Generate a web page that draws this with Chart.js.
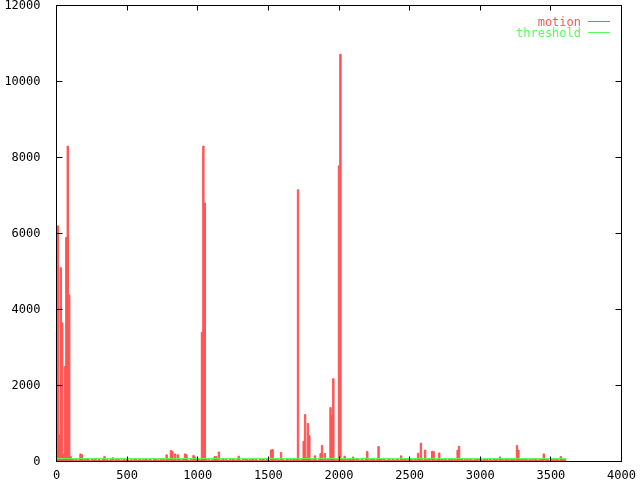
<!DOCTYPE html>
<html>
<head>
<meta charset="utf-8">
<title>motion</title>
<script src="https://cdn.jsdelivr.net/npm/chart.js@4/dist/chart.umd.min.js"></script>
<style>
  html, body { margin: 0; padding: 0; background: #fff; }
  #chart { display: block; }
</style>
</head>
<body>
<canvas id="chart" width="640" height="480"></canvas>
<script>
// motion score, one value every 10 frames (frame 0 .. 3610)
const frameStep = 10
const motion = [
  450, 6200, 700, 5100, 3650, 200, 2500, 5900, 8300, 4385, 130, 40, 60, 25, 55, 30, 45, 200, 180, 35,
  50, 30, 65, 40, 20, 55, 35, 60, 45, 25, 50, 40, 30, 60, 130, 35, 50, 25, 45, 55,
  100, 30, 50, 40, 60, 25, 45, 35, 55, 30, 60, 40, 20, 50, 35, 45, 60, 30, 40, 55,
  25, 50, 35, 60, 45, 30, 55, 40, 20, 50, 65, 35, 45, 30, 55, 40, 60, 25, 175, 45,
  50, 290, 270, 40, 200, 35, 175, 55, 30, 45, 60, 200, 180, 40, 25, 55, 35, 160, 120, 45,
  30, 55, 40, 3400, 8300, 6800, 60, 35, 50, 25, 45, 40, 130, 130, 55, 250, 30, 45, 60, 35,
  50, 40, 25, 55, 35, 60, 45, 30, 50, 140, 40, 25, 55, 35, 60, 45, 30, 50, 40, 65,
  30, 55, 40, 20, 50, 35, 60, 45, 25, 55, 40, 30, 305, 315, 45, 60, 35, 50, 30, 240,
  55, 40, 25, 60, 45, 35, 50, 30, 65, 40, 55, 7150, 45, 30, 60, 530, 1234, 100, 1000, 683,
  50, 35, 60, 150, 40, 25, 55, 210, 420, 45, 210, 30, 60, 40, 1420, 1210, 2180, 50, 35, 60,
  7780, 10715, 60, 45, 140, 35, 55, 40, 65, 30, 120, 50, 35, 60, 45, 25, 55, 40, 30, 50,
  265, 45, 35, 60, 40, 55, 30, 50, 395, 45, 60, 35, 55, 40, 25, 60, 45, 30, 55, 40,
  35, 60, 45, 30, 150, 55, 40, 65, 35, 50, 25, 60, 45, 35, 55, 40, 220, 50, 483, 45,
  30, 300, 55, 40, 60, 35, 270, 260, 45, 30, 55, 225, 40, 60, 35, 50, 45, 30, 60, 40,
  55, 35, 50, 40, 300, 400, 45, 60, 30, 50, 40, 55, 35, 60, 45, 25, 50, 40, 60, 35,
  55, 45, 30, 60, 40, 50, 35, 55, 45, 25, 60, 40, 50, 35, 120, 55, 45, 30, 60, 40,
  50, 35, 55, 45, 60, 30, 420, 300, 50, 40, 55, 35, 60, 45, 30, 50, 40, 55, 35, 60,
  45, 30, 55, 40, 60, 200, 35, 50, 45, 25, 55, 40, 60, 35, 50, 45, 30, 130, 55, 40,
  50, 35
]
const thresholdFrames = [0, 3610]
const thresholdValues = [80, 80]

const xTicks = [0, 500, 1000, 1500, 2000, 2500, 3000, 3500, 4000]
const yTicks = [0, 2000, 4000, 6000, 8000, 10000, 12000]

const red = '#ff5555'
const green = '#55ff55'
const font = { family: 'DejaVu Sans Mono', size: 12 }

// gnuplot style box with inward ticks on all four sides + keys in the corner
const gnuplotFrame = {
  id: 'gnuplotFrame',
  afterDatasetsDraw(chart) {
    const { ctx, chartArea: a, scales: { x, y } } = chart
    ctx.save()
    ctx.strokeStyle = '#000'
    ctx.lineWidth = 1
    ctx.beginPath()
    x.ticks.forEach(t => {
      const px = Math.floor(x.getPixelForValue(t.value)) + 0.5
      ctx.moveTo(px, a.bottom); ctx.lineTo(px, a.bottom - 5)
      ctx.moveTo(px, a.top); ctx.lineTo(px, a.top + 5)
    })
    y.ticks.forEach(t => {
      const py = Math.floor(y.getPixelForValue(t.value)) + 0.5
      ctx.moveTo(a.left, py); ctx.lineTo(a.left + 6, py)
      ctx.moveTo(a.right, py); ctx.lineTo(a.right - 6, py)
    })
    ctx.stroke()
    ctx.strokeRect(a.left, a.top, a.right - a.left, a.bottom - a.top)

    ctx.font = '12px "DejaVu Sans Mono"'
    ctx.textAlign = 'right'
    ctx.textBaseline = 'alphabetic'
    chart.data.datasets.forEach((ds, i) => {
      const ty = 26 + i * 11
      ctx.fillStyle = ds.borderColor
      ctx.fillText(ds.label, 581, ty)
      ctx.strokeStyle = ds.borderColor
      ctx.beginPath()
      ctx.moveTo(588, ty - 4.5)
      ctx.lineTo(610, ty - 4.5)
      ctx.stroke()
    })
    ctx.restore()
  }
}

new Chart(document.getElementById('chart'), {
  type: 'line',
  data: {
    datasets: [{
      label: 'motion',
      data: motion.map((v, i) => ({ x: i * frameStep, y: v })),
      borderColor: red,
      backgroundColor: red,
      borderWidth: 1,
      stepped: 'middle',
      fill: 'origin',
      pointRadius: 0,
      order: 1
    }, {
      label: 'threshold',
      data: thresholdFrames.map((f, i) => ({ x: f, y: thresholdValues[i] })),
      borderColor: green,
      borderWidth: 1,
      fill: false,
      pointRadius: 0,
      order: 0
    }]
  },
  options: {
    responsive: false,
    animation: false,
    devicePixelRatio: 1,
    layout: { padding: { top: 5.5, right: 18.5, left: 0, bottom: 0 } },
    plugins: { legend: { display: false }, tooltip: { enabled: false } },
    scales: {
      x: {
        type: 'linear',
        min: 0,
        max: 4000,
        grid: { display: false },
        border: { display: false },
        ticks: { font, color: '#000', padding: -1, maxRotation: 0, autoSkip: false, callback: v => String(v) },
        afterBuildTicks: s => { s.ticks = xTicks.map(value => ({ value })) },
        afterFit: s => { s.height = 18.5; s.paddingLeft = 0; s.paddingRight = 0 }
      },
      y: {
        min: 0,
        max: 12000,
        grid: { display: false },
        border: { display: false },
        ticks: { font, color: '#000', padding: 8, callback: v => String(v) },
        afterBuildTicks: s => { s.ticks = yTicks.map(value => ({ value })) },
        afterFit: s => { s.width = 56.5; s.paddingTop = 0; s.paddingBottom = 0 }
      }
    }
  },
  plugins: [gnuplotFrame]
})
</script>
</body>
</html>
